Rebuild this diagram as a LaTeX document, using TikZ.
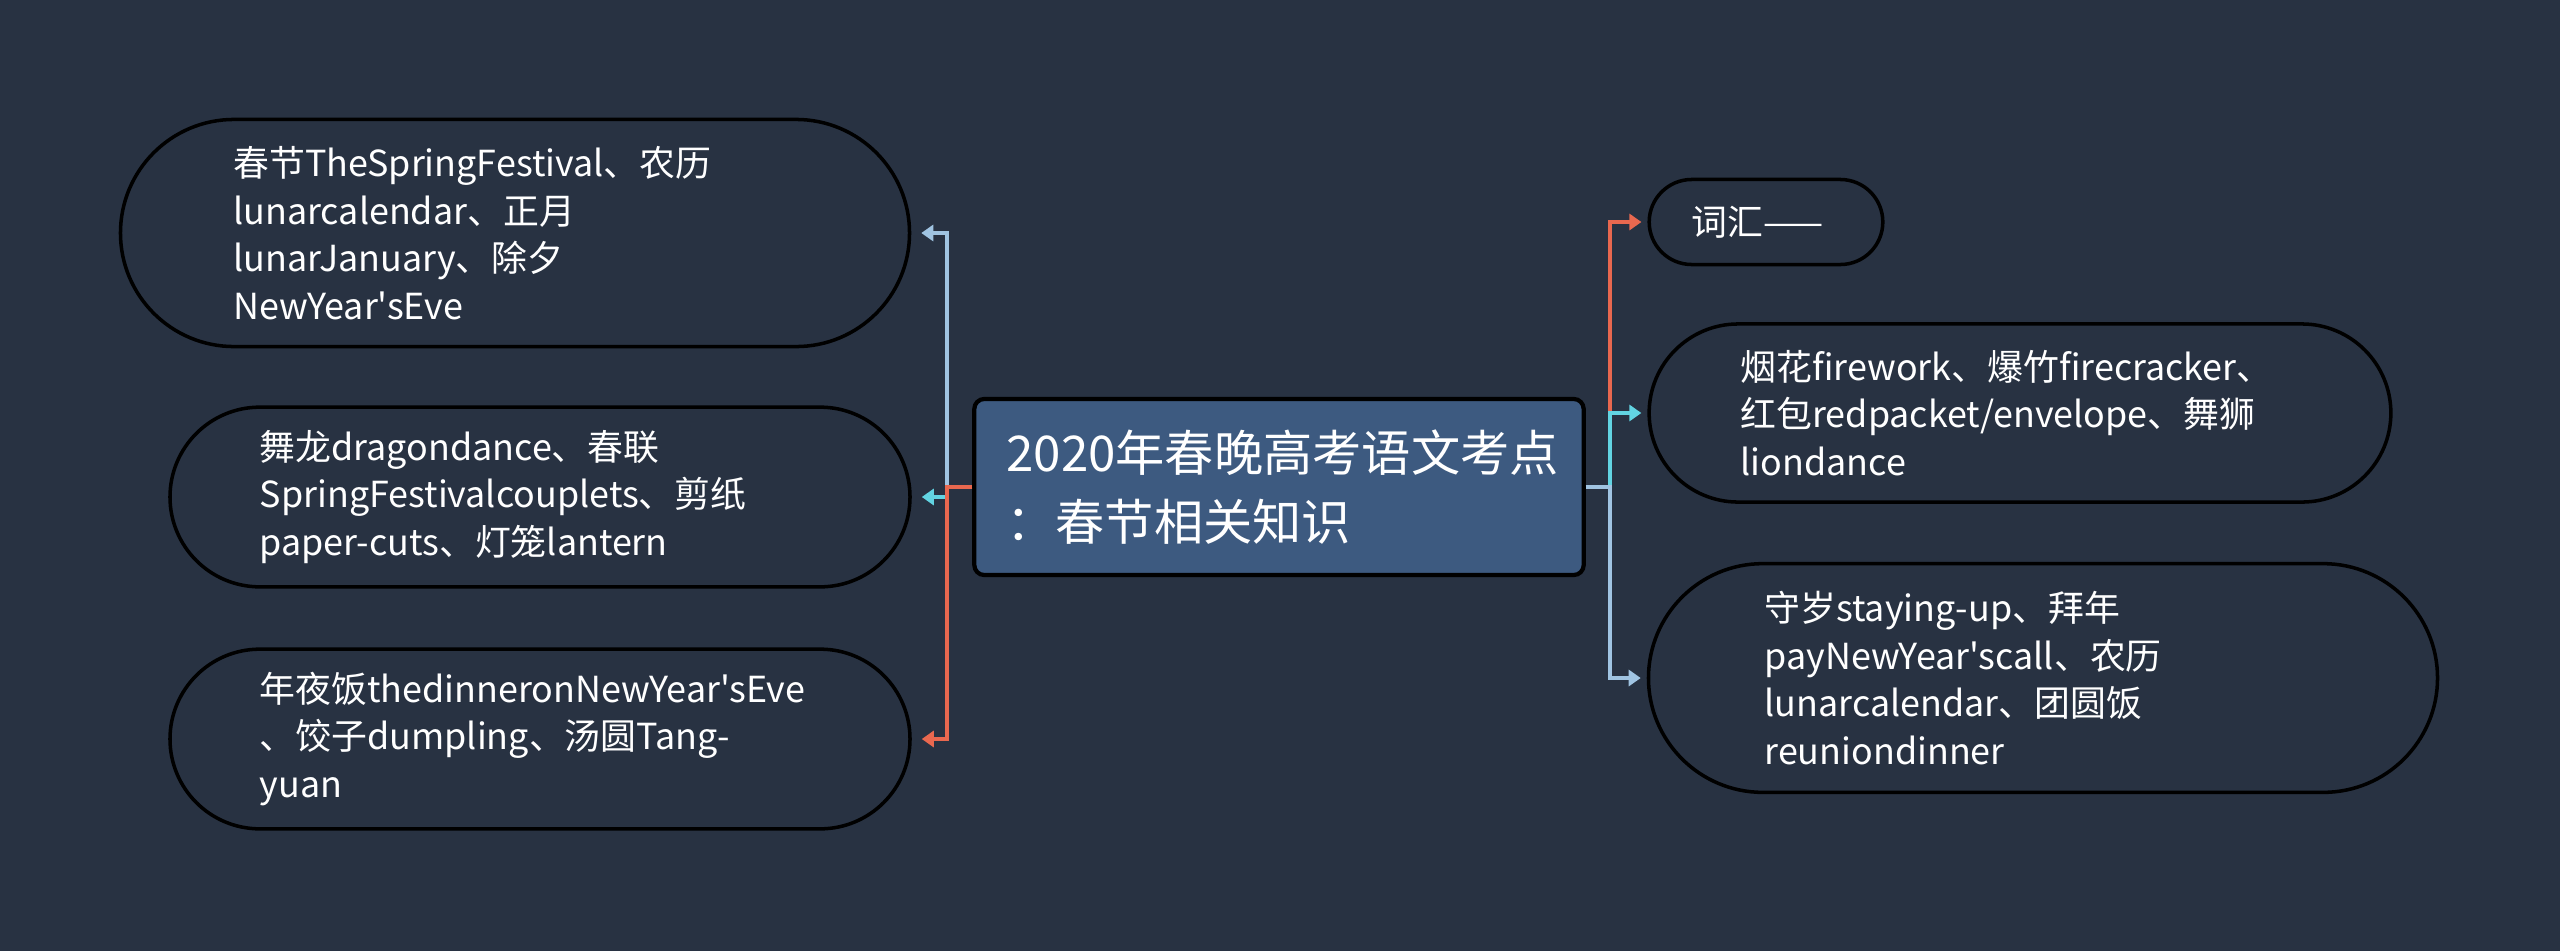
\documentclass[tikz,border=0pt]{standalone}
\usepackage{fontspec}
\newfontfamily\cjk{Noto Sans CJK SC}
\usepackage{xcolor}
\usetikzlibrary{arrows.meta}

\definecolor{bgc}{HTML}{283242}
\definecolor{rootc}{HTML}{3D5A80}
\definecolor{orangec}{HTML}{E9684F}
\definecolor{cyanc}{HTML}{62D4E2}
\definecolor{paleb}{HTML}{A0C4E2}

\begin{document}
\begin{tikzpicture}[
    x=0.01cm, y=-0.01cm,
    leaf/.style n args={3}{draw=black, line width=1pt, fill=bgc, text=white,
    font=\cjk\fontsize{10.2}{13.5}\selectfont, align=left, inner sep=0pt,
    minimum width=#1cm, minimum height=#2cm, rounded corners=#2*5mm,
    text width=#3cm},
    root/.style={draw=black, line width=1.2pt, fill=rootc, text=white,
    rounded corners=1mm, font=\cjk\fontsize{14}{19.5}\selectfont, align=left,
    inner sep=0pt, minimum width=6.09cm, minimum height=1.76cm, text width=5.45cm},
    arr/.style={-{Triangle[length=1.2mm,width=1.6mm]}, line width=1pt}
]
\fill[bgc] (0,0) rectangle (2560,951);
\useasboundingbox (0,0) rectangle (2560,951);

\node[root] (top) at (1279,487) {2020年春晚高考语文考点\\：春节相关知识};

% left side
\node[leaf={7.886}{2.27}{5.63}] (fest) at (515,233)
  {春节TheSpringFestival、农历\\lunarcalendar、正月\\lunarJanuary、除夕\\NewYear'sEve};
\node[leaf={7.396}{1.796}{5.60}] (dance) at (540,497)
  {舞龙dragondance、春联\\SpringFestivalcouplets、剪纸\\paper-cuts、灯笼lantern};
\node[leaf={7.396}{1.796}{5.60}] (food) at (540,739)
  {年夜饭thedinneronNewYear'sEve\\、饺子dumpling、汤圆Tang-\\yuan};

% right side
\node[leaf={2.335}{0.85}{1.49}] (vocab) at (1766,222) {词汇——};
\node[leaf={7.413}{1.78}{5.585}] (fire) at (2020,413)
  {烟花firework、爆竹firecracker、\\红包redpacket/envelope、舞狮\\liondance};
\node[leaf={7.886}{2.286}{5.566}] (eve) at (2043,678)
  {守岁staying-up、拜年\\payNewYear'scall、农历\\lunarcalendar、团圆饭\\reuniondinner};

\draw[arr, paleb, shorten >=0.1cm] (top.west) -- ++(-25,0) |- (fest.east);
\draw[arr, cyanc, shorten >=0.1cm] (top.west) -- ++(-25,0) |- (dance.east);
\draw[arr, orangec, shorten >=0.1cm] (top.west) -- ++(-25,0) |- (food.east);

\draw[arr, orangec, shorten >=0.06cm] (top.east) -- ++(24,0) |- (vocab.west);
\draw[arr, cyanc, shorten >=0.06cm] (top.east) -- ++(24,0) |- (fire.west);
\draw[arr, paleb, shorten >=0.06cm] (top.east) -- ++(24,0) |- (eve.west);
\end{tikzpicture}
\end{document}
